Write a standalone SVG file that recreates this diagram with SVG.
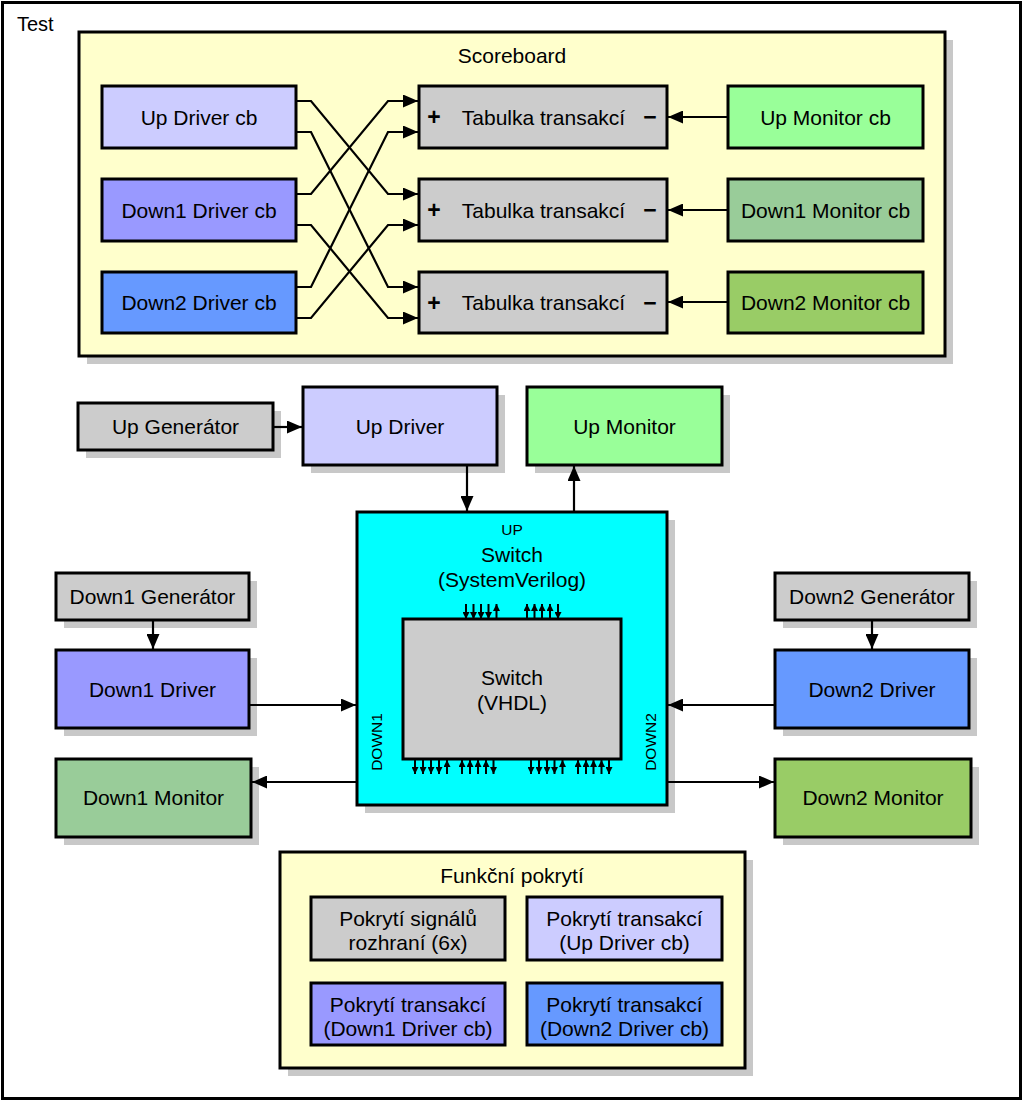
<svg xmlns="http://www.w3.org/2000/svg" width="1024" height="1101" viewBox="0 0 1024 1101">
<style>
text{font-family:"Liberation Sans",Arial,sans-serif;font-size:21px;fill:#000;text-anchor:middle}
.box{stroke:#000;stroke-width:3}
.sh{fill:#c8c8c8}
.c{fill:none;stroke:#000;stroke-width:2.2}
.s{fill:none;stroke:#000;stroke-width:2}
text.lbl{font-size:15.5px}
text.pm{font-weight:bold;font-size:23px}
</style>
<defs>
<marker id="arr" markerUnits="userSpaceOnUse" markerWidth="15" markerHeight="13" refX="15" refY="6.5" orient="auto"><path d="M0,0 L15,6.5 L0,13 z" fill="#000"/></marker>
<marker id="sm" markerUnits="userSpaceOnUse" markerWidth="7" markerHeight="7" refX="7" refY="3.5" orient="auto"><path d="M0,0 L7,3.5 L0,7 z" fill="#000"/></marker>
</defs>
<rect x="0" y="0" width="1024" height="1101" fill="#fff"/>
<g id="test">
<rect x="2.5" y="2.5" width="1018" height="1096" fill="#fff" stroke="#000" stroke-width="3"/>
<text x="17" y="31" style="text-anchor:start;font-size:20px">Test</text>
</g>
<g id="scoreboard">
<rect class="sh" x="87" y="40" width="866" height="324"/>
<rect class="box" x="79" y="32" width="866" height="324" fill="#ffffcc"/>
<text x="512" y="63">Scoreboard</text>
</g>
<g id="up-driver-cb"><rect class="box" x="102" y="86" width="194" height="62" fill="#ccccff"/><text x="199" y="124.5">Up Driver cb</text></g>
<g id="down1-driver-cb"><rect class="box" x="102" y="179" width="194" height="62" fill="#9999ff"/><text x="199" y="217.5">Down1 Driver cb</text></g>
<g id="down2-driver-cb"><rect class="box" x="102" y="272" width="194" height="61" fill="#6699ff"/><text x="199" y="310">Down2 Driver cb</text></g>
<g id="tab1"><rect class="box" x="419" y="86" width="248" height="62" fill="#cccccc"/><text x="434" y="125" class="pm">+</text><text x="543.5" y="124.5">Tabulka transakcí</text><text x="650" y="125" class="pm">−</text></g>
<g id="tab2"><rect class="box" x="419" y="179" width="248" height="62" fill="#cccccc"/><text x="434" y="218" class="pm">+</text><text x="543.5" y="217.5">Tabulka transakcí</text><text x="650" y="218" class="pm">−</text></g>
<g id="tab3"><rect class="box" x="419" y="272" width="248" height="61" fill="#cccccc"/><text x="434" y="310.5" class="pm">+</text><text x="543.5" y="310">Tabulka transakcí</text><text x="650" y="310.5" class="pm">−</text></g>
<g id="up-monitor-cb"><rect class="box" x="728" y="86" width="195" height="62" fill="#99ff99"/><text x="825.5" y="124.5">Up Monitor cb</text></g>
<g id="down1-monitor-cb"><rect class="box" x="728" y="179" width="195" height="62" fill="#99cc99"/><text x="825.5" y="217.5">Down1 Monitor cb</text></g>
<g id="down2-monitor-cb"><rect class="box" x="728" y="272" width="195" height="61" fill="#99cc66"/><text x="825.5" y="310">Down2 Monitor cb</text></g>

<g id="up-generator"><rect class="sh" x="86" y="411" width="195" height="47"/><rect class="box" x="78" y="403" width="195" height="47" fill="#cccccc"/><text x="175.5" y="434">Up Generátor</text></g>
<g id="up-driver"><rect class="sh" x="311" y="395" width="194" height="78"/><rect class="box" x="303" y="387" width="194" height="78" fill="#ccccff"/><text x="400" y="434">Up Driver</text></g>
<g id="up-monitor"><rect class="sh" x="535" y="395" width="195" height="78"/><rect class="box" x="527" y="387" width="195" height="78" fill="#99ff99"/><text x="624.5" y="434">Up Monitor</text></g>

<g id="switch">
<rect class="sh" x="365" y="520" width="310" height="293"/>
<rect class="box" x="357" y="512" width="310" height="293" fill="#00ffff"/>
<text x="512" y="535" class="lbl">UP</text>
<text x="512" y="562">Switch</text>
<text x="512" y="587">(SystemVerilog)</text>
<text class="lbl" transform="translate(382,742) rotate(-90)">DOWN1</text>
<text class="lbl" transform="translate(656,742) rotate(-90)">DOWN2</text>
</g>
<g id="switch-vhdl">
<rect class="box" x="403" y="619" width="218" height="140" fill="#cccccc"/>
<text x="512" y="685">Switch</text>
<text x="512" y="710">(VHDL)</text>
</g>
<g id="ports">
<path class="s" marker-end="url(#sm)" d="M466,604 V619"/>
<path class="s" marker-end="url(#sm)" d="M473.5,604 V619"/>
<path class="s" marker-end="url(#sm)" d="M481,604 V619"/>
<path class="s" marker-end="url(#sm)" d="M488.5,604 V619"/>
<path class="s" marker-end="url(#sm)" d="M496.5,619 V604"/>
<path class="s" marker-end="url(#sm)" d="M527,619 V604"/>
<path class="s" marker-end="url(#sm)" d="M534.5,619 V604"/>
<path class="s" marker-end="url(#sm)" d="M542,619 V604"/>
<path class="s" marker-end="url(#sm)" d="M550,619 V604"/>
<path class="s" marker-end="url(#sm)" d="M558,604 V619"/>
<path class="s" marker-end="url(#sm)" d="M415,760 V774"/>
<path class="s" marker-end="url(#sm)" d="M423,760 V774"/>
<path class="s" marker-end="url(#sm)" d="M431,760 V774"/>
<path class="s" marker-end="url(#sm)" d="M439,760 V774"/>
<path class="s" marker-end="url(#sm)" d="M447,774 V760"/>
<path class="s" marker-end="url(#sm)" d="M462,774 V760"/>
<path class="s" marker-end="url(#sm)" d="M470,774 V760"/>
<path class="s" marker-end="url(#sm)" d="M478,774 V760"/>
<path class="s" marker-end="url(#sm)" d="M486,774 V760"/>
<path class="s" marker-end="url(#sm)" d="M493.5,760 V774"/>
<path class="s" marker-end="url(#sm)" d="M531,760 V774"/>
<path class="s" marker-end="url(#sm)" d="M539,760 V774"/>
<path class="s" marker-end="url(#sm)" d="M547,760 V774"/>
<path class="s" marker-end="url(#sm)" d="M554.5,760 V774"/>
<path class="s" marker-end="url(#sm)" d="M562.5,774 V760"/>
<path class="s" marker-end="url(#sm)" d="M578,774 V760"/>
<path class="s" marker-end="url(#sm)" d="M586,774 V760"/>
<path class="s" marker-end="url(#sm)" d="M593.5,774 V760"/>
<path class="s" marker-end="url(#sm)" d="M601.5,774 V760"/>
<path class="s" marker-end="url(#sm)" d="M609,760 V774"/>
</g>

<g id="down1-generator"><rect class="sh" x="64" y="581" width="193" height="47"/><rect class="box" x="56" y="573" width="193" height="47" fill="#cccccc"/><text x="152.5" y="604">Down1 Generátor</text></g>
<g id="down1-driver"><rect class="sh" x="64" y="658" width="193" height="78"/><rect class="box" x="56" y="650" width="193" height="78" fill="#9999ff"/><text x="152.5" y="697">Down1 Driver</text></g>
<g id="down1-monitor"><rect class="sh" x="64" y="767" width="195" height="78"/><rect class="box" x="56" y="759" width="195" height="78" fill="#99cc99"/><text x="153.5" y="805">Down1 Monitor</text></g>
<g id="down2-generator"><rect class="sh" x="783" y="581" width="194" height="47"/><rect class="box" x="775" y="573" width="194" height="47" fill="#cccccc"/><text x="872" y="604">Down2 Generátor</text></g>
<g id="down2-driver"><rect class="sh" x="783" y="658" width="194" height="78"/><rect class="box" x="775" y="650" width="194" height="78" fill="#6699ff"/><text x="872" y="697">Down2 Driver</text></g>
<g id="down2-monitor"><rect class="sh" x="783" y="767" width="196" height="78"/><rect class="box" x="775" y="759" width="196" height="78" fill="#99cc66"/><text x="873" y="805">Down2 Monitor</text></g>

<g id="funkcni-pokryti">
<rect class="sh" x="288" y="860" width="465" height="216"/>
<rect class="box" x="280" y="852" width="465" height="216" fill="#ffffcc"/>
<text x="512" y="883">Funkční pokrytí</text>
</g>
<g id="cov-signals"><rect class="box" x="311" y="897" width="194" height="63" fill="#cccccc"/><text x="408" y="926">Pokrytí signálů</text><text x="408" y="950">rozhraní (6x)</text></g>
<g id="cov-up"><rect class="box" x="527" y="897" width="195" height="63" fill="#ccccff"/><text x="624.5" y="926">Pokrytí transakcí</text><text x="624.5" y="950">(Up Driver cb)</text></g>
<g id="cov-down1"><rect class="box" x="311" y="983" width="194" height="62" fill="#9999ff"/><text x="408" y="1012">Pokrytí transakcí</text><text x="408" y="1036">(Down1 Driver cb)</text></g>
<g id="cov-down2"><rect class="box" x="527" y="983" width="195" height="62" fill="#6699ff"/><text x="624.5" y="1012">Pokrytí transakcí</text><text x="624.5" y="1036">(Down2 Driver cb)</text></g>

<g id="connectors">
<path class="c" marker-end="url(#arr)" d="M297,101 H311 L388,194 H418"/>
<path class="c" marker-end="url(#arr)" d="M297,132 H311 L388,287 H418"/>
<path class="c" marker-end="url(#arr)" d="M297,194 H311 L388,101 H418"/>
<path class="c" marker-end="url(#arr)" d="M297,225 H311 L388,318 H418"/>
<path class="c" marker-end="url(#arr)" d="M297,287 H311 L388,132 H418"/>
<path class="c" marker-end="url(#arr)" d="M297,318 H311 L388,225 H418"/>
<path class="c" marker-end="url(#arr)" d="M727,117 H668"/>
<path class="c" marker-end="url(#arr)" d="M727,210 H668"/>
<path class="c" marker-end="url(#arr)" d="M727,302 H668"/>
<path class="c" marker-end="url(#arr)" d="M274,427 H302"/>
<path class="c" marker-end="url(#arr)" d="M467,466 V511"/>
<path class="c" marker-end="url(#arr)" d="M574,511 V466"/>
<path class="c" marker-end="url(#arr)" d="M153,621 V649"/>
<path class="c" marker-end="url(#arr)" d="M872,621 V649"/>
<path class="c" marker-end="url(#arr)" d="M250,705 H356"/>
<path class="c" marker-end="url(#arr)" d="M774,705 H668"/>
<path class="c" marker-end="url(#arr)" d="M356,782 H252"/>
<path class="c" marker-end="url(#arr)" d="M668,782 H774"/>
</g>
</svg>
